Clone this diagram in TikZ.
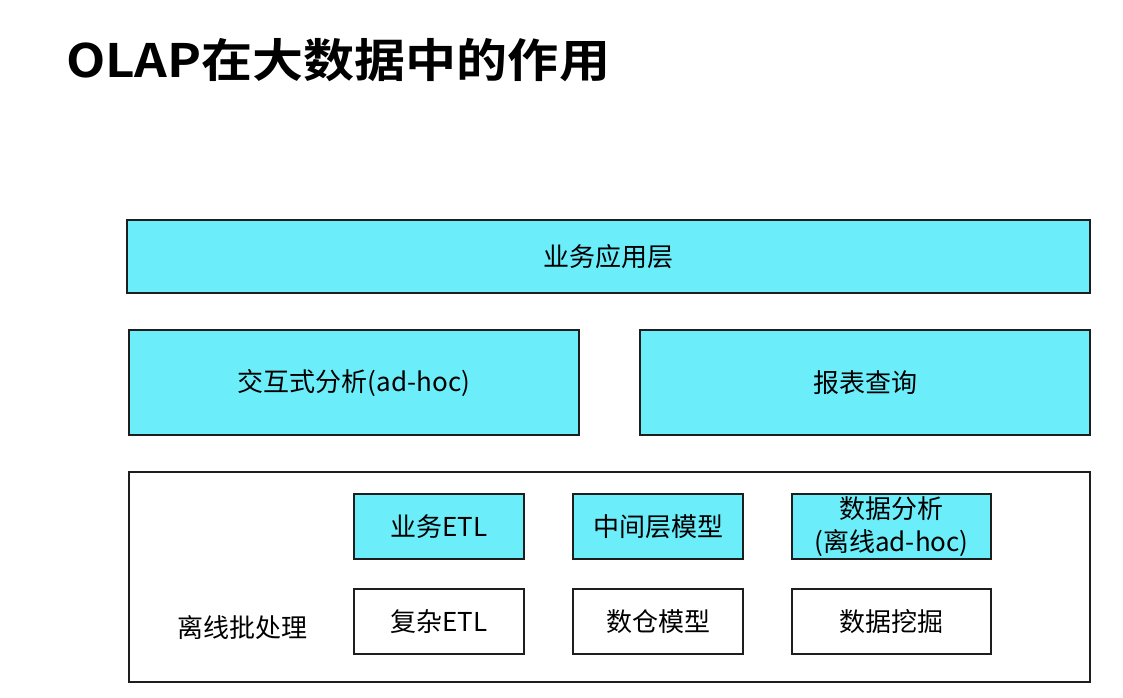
\documentclass[tikz,border=0pt]{standalone}
\usepackage{fontspec}
\setmainfont{Noto Sans CJK SC}
\newfontfamily\titlefont{Noto Sans CJK SC Bold}
\definecolor{cyanfill}{RGB}{108,237,250}
\definecolor{edge}{RGB}{30,30,30}
\tikzset{
  layerbox/.style={draw=edge, line width=1.4pt, fill=cyanfill},
  plainbox/.style={draw=edge, line width=1.4pt, fill=white},
  lbl/.style={font=\fontsize{26}{30}\selectfont, text=black, align=center, inner sep=0pt},
}
\begin{document}
\begin{tikzpicture}[x=1pt,y=-1pt]
\useasboundingbox (0,0) rectangle (1123,697);
\fill[white] (0,0) rectangle (1123,697);
% title
\node[anchor=west, inner sep=0pt, font=\titlefont\fontsize{46}{50}\selectfont] (title) at (66,60) {\scalebox{1.11}[1]{OLAP在大数据中的作用}};
% top layer
\draw[layerbox] (127,220) rectangle (1090,293);
\node[lbl] (app) at (608.5,257) {业务应用层};
% second layer
\draw[layerbox] (129,330) rectangle (579,435);
\node[lbl] (adhoc) at (354,383) {交互式分析(ad-hoc)};
\draw[layerbox] (640,330) rectangle (1090,435);
\node[lbl] (report) at (865,383) {报表查询};
% offline batch
\draw[plainbox] (129,472) rectangle (1090,682);
\node[lbl, anchor=west] (batch) at (177,628) {离线批处理};
\draw[layerbox] (354,494) rectangle (524,559);
\node[lbl] (betl) at (439,526.5) {业务ETL};
\draw[layerbox] (573,494) rectangle (743,559);
\node[lbl] (mid) at (658,526.5) {中间层模型};
\draw[layerbox] (792,494) rectangle (991,559);
\node[lbl, font=\fontsize{26}{33}\selectfont] (da) at (891.5,526.5) {数据分析\\(离线ad-hoc)};
\draw[plainbox] (354,589) rectangle (524,654);
\node[lbl] (cetl) at (439,621.5) {复杂ETL};
\draw[plainbox] (573,589) rectangle (743,654);
\node[lbl] (dw) at (658,621.5) {数仓模型};
\draw[plainbox] (792,589) rectangle (991,654);
\node[lbl] (dm) at (891.5,621.5) {数据挖掘};
\end{tikzpicture}
\end{document}
